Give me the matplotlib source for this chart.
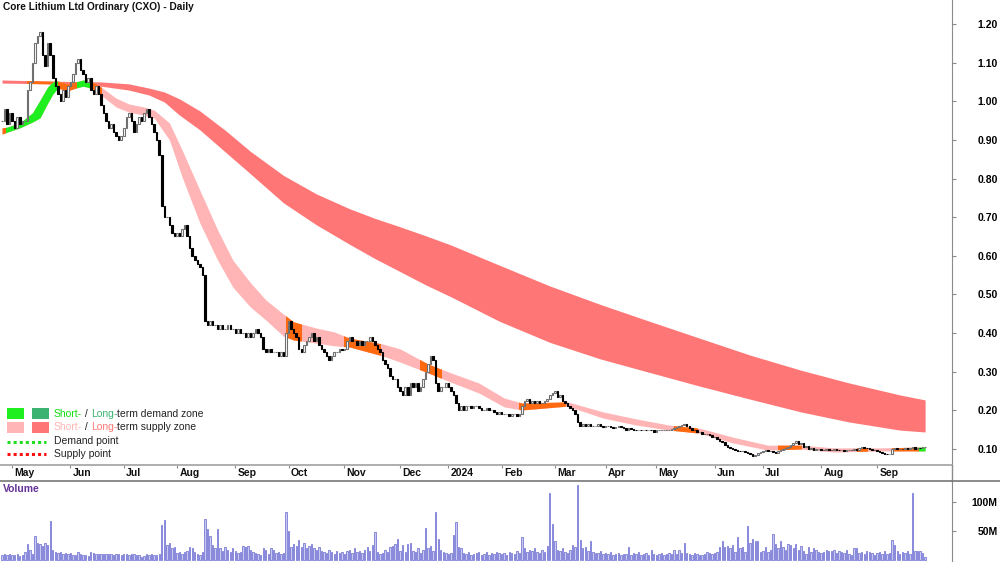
import matplotlib
matplotlib.use("Agg")
import matplotlib.pyplot as plt
from matplotlib.patches import Rectangle
from matplotlib.lines import Line2D
from matplotlib.transforms import blended_transform_factory
import numpy as np
import pandas as pd

plt.rcParams["font.family"] = ["Liberation Sans", "DejaVu Sans"]

title = "Core Lithium Ltd Ordinary (CXO) - Daily"
start_date = "2023-04-24"
asx_holidays = ["2023-04-25", "2023-06-12", "2023-12-25", "2023-12-26", "2024-01-01",
                "2024-01-26", "2024-03-29", "2024-04-01", "2024-04-25", "2024-06-10"]

# daily closes, one line per month (Apr-23 .. Sep-24)
close = [
    0.95, 0.98, 0.94, 0.97,
    0.95, 0.93, 0.96, 0.94, 0.95, 0.95, 1.03, 1.05, 1.10, 1.15, 1.17, 1.18, 1.12, 1.09, 1.15, 1.12, 1.06, 1.04, 1.02, 1.00, 1.03, 1.01, 1.04,
    1.05, 1.07, 1.10, 1.11, 1.08, 1.07, 1.05, 1.06, 1.03, 1.02, 1.04, 1.02, 0.99, 0.97, 0.95, 0.93, 0.94, 0.92, 0.91, 0.90, 0.91,
    0.93, 0.96, 0.97, 0.95, 0.92, 0.94, 0.96, 0.95, 0.97, 0.98, 0.96, 0.94, 0.92, 0.90, 0.86, 0.73, 0.70, 0.70, 0.68, 0.66, 0.65,
    0.66, 0.65, 0.67, 0.68, 0.65, 0.62, 0.60, 0.59, 0.58, 0.57, 0.55, 0.43, 0.42, 0.43, 0.42, 0.42, 0.41, 0.42, 0.41, 0.41, 0.42, 0.41, 0.41,
    0.40, 0.41, 0.40, 0.40, 0.39, 0.40, 0.39, 0.40, 0.41, 0.40, 0.39, 0.36, 0.35, 0.36, 0.35, 0.35, 0.35, 0.34, 0.35, 0.34, 0.40,
    0.43, 0.41, 0.40, 0.39, 0.36, 0.35, 0.37, 0.38, 0.39, 0.40, 0.38, 0.39, 0.37, 0.36, 0.35, 0.34, 0.33, 0.34, 0.35, 0.35, 0.36, 0.355,
    0.36, 0.38, 0.39, 0.38, 0.38, 0.37, 0.38, 0.37, 0.38, 0.38, 0.39, 0.38, 0.37, 0.36, 0.35, 0.33, 0.32, 0.31, 0.29, 0.28, 0.28, 0.26,
    0.25, 0.24, 0.26, 0.24, 0.27, 0.26, 0.27, 0.25, 0.26, 0.28, 0.30, 0.32, 0.34, 0.33, 0.27, 0.25, 0.26, 0.26, 0.27,
    0.26, 0.25, 0.24, 0.22, 0.20, 0.21, 0.20, 0.21, 0.21, 0.205, 0.21, 0.21, 0.205, 0.20, 0.20, 0.205, 0.20, 0.20, 0.195, 0.19, 0.195,
    0.19, 0.19, 0.19, 0.185, 0.19, 0.19, 0.185, 0.19, 0.21, 0.225, 0.23, 0.22, 0.225, 0.22, 0.225, 0.22, 0.22, 0.225, 0.23, 0.24, 0.245,
    0.25, 0.235, 0.24, 0.225, 0.22, 0.21, 0.205, 0.20, 0.19, 0.17, 0.16, 0.165, 0.16, 0.165, 0.16, 0.16, 0.16, 0.165, 0.16, 0.158,
    0.16, 0.16, 0.158, 0.155, 0.158, 0.16, 0.158, 0.155, 0.15, 0.155, 0.152, 0.15, 0.148, 0.15, 0.148, 0.15, 0.148, 0.15, 0.148, 0.145,
    0.148, 0.15, 0.148, 0.15, 0.148, 0.15, 0.152, 0.155, 0.158, 0.16, 0.162, 0.165, 0.16, 0.155, 0.15, 0.148, 0.145, 0.145, 0.14, 0.138, 0.14, 0.135, 0.132,
    0.13, 0.125, 0.12, 0.118, 0.11, 0.105, 0.102, 0.10, 0.098, 0.096, 0.095, 0.094, 0.092, 0.09, 0.088, 0.082, 0.085, 0.09, 0.092,
    0.095, 0.098, 0.096, 0.094, 0.092, 0.09, 0.094, 0.098, 0.10, 0.102, 0.105, 0.11, 0.115, 0.12, 0.112, 0.115, 0.105, 0.108, 0.10, 0.102, 0.098, 0.10, 0.10,
    0.098, 0.097, 0.10, 0.098, 0.097, 0.10, 0.098, 0.097, 0.098, 0.096, 0.097, 0.098, 0.097, 0.10, 0.098, 0.102, 0.105, 0.103, 0.102, 0.10, 0.098, 0.097,
    0.095, 0.092, 0.09, 0.088, 0.086, 0.088, 0.10, 0.102, 0.10, 0.101, 0.10, 0.102, 0.10, 0.102, 0.104, 0.10, 0.103, 0.102, 0.105, 0.105,
]

# daily volume in millions
volume_m = [
    9, 10, 9, 10,
    9, 8, 10, 7, 8, 14, 27, 18, 10, 41, 30, 27, 24, 29, 25, 68, 18, 14, 12, 13, 10, 12, 10,
    12, 8, 9, 13, 10, 9, 8, 7, 14, 12, 11, 10, 11, 10, 11, 10, 10, 9, 11, 10, 9,
    10, 11, 9, 11, 10, 9, 8, 6, 7, 11, 9, 10, 9, 8, 10, 60, 69, 25, 30, 20, 22,
    12, 14, 10, 13, 16, 22, 20, 14, 10, 8, 14, 71, 53, 41, 25, 20, 53, 20, 15, 22, 18, 14, 20,
    16, 12, 14, 24, 22, 24, 18, 14, 12, 10, 8, 20, 18, 10, 20, 18, 12, 14, 10, 12, 82,
    50, 22, 28, 24, 35, 22, 30, 20, 24, 28, 20, 18, 22, 16, 14, 12, 18, 14, 10, 16, 12, 14,
    10, 16, 18, 12, 20, 14, 16, 12, 18, 23, 16, 26, 49, 14, 10, 12, 18, 14, 22, 24, 28, 37,
    15, 26, 14, 28, 29, 16, 14, 20, 12, 18, 55, 20, 24, 16, 82, 36, 18, 14, 12,
    10, 12, 43, 65, 22, 20, 12, 10, 14, 8, 10, 12, 14, 8, 10, 14, 8, 12, 10, 14, 12,
    10, 12, 8, 14, 12, 10, 16, 12, 39, 20, 14, 18, 16, 20, 14, 12, 18, 14, 24, 115, 62,
    33, 18, 16, 20, 14, 12, 18, 26, 22, 129, 35, 20, 22, 16, 32, 14, 12, 12, 16, 10,
    12, 10, 14, 8, 10, 12, 9, 10, 10, 22, 8, 12, 10, 14, 8, 10, 12, 8, 17, 10,
    8, 10, 12, 9, 10, 12, 10, 18, 10, 18, 12, 29, 12, 10, 8, 12, 10, 9, 8, 10, 14, 12, 10,
    12, 14, 22, 32, 22, 24, 20, 26, 14, 40, 20, 22, 14, 59, 30, 36, 32, 33, 14,
    16, 22, 14, 18, 45, 28, 20, 32, 22, 18, 28, 26, 20, 28, 18, 24, 16, 10, 22, 14, 20, 18, 14,
    12, 14, 18, 16, 15, 18, 12, 16, 14, 12, 18, 10, 8, 20, 21, 12, 14, 10, 16, 14, 12, 8,
    12, 14, 10, 16, 10, 12, 35, 26, 16, 10, 14, 12, 16, 10, 115, 15, 16, 16, 12, 6,
]

# short-term band edges (sampled by trading-day index)
st_idx = [0, 2, 7, 12, 15, 18, 20, 22, 26, 29, 32, 35, 37, 39, 45, 50, 56, 60, 66, 71,
          78, 85, 91, 98, 104, 111, 115, 124, 131, 137, 150, 157, 168, 177, 188, 198, 205, 223, 237, 250,
          263, 275, 288, 302, 315, 328, 346, 364]
st_upper = [0.931, 0.933, 0.944, 0.970, 1.003, 1.037, 1.050, 1.052, 1.045, 1.050, 1.055, 1.052, 1.045, 1.037, 1.008, 0.993, 0.985, 0.977, 0.944, 0.874,
            0.770, 0.667, 0.589, 0.530, 0.486, 0.449, 0.429, 0.413, 0.403, 0.387, 0.372, 0.359, 0.320, 0.297, 0.271, 0.232, 0.219, 0.222, 0.196, 0.178,
            0.162, 0.154, 0.131, 0.110, 0.110, 0.103, 0.103, 0.105]
st_lower = [0.915, 0.920, 0.931, 0.946, 0.957, 0.995, 1.018, 1.034, 1.027, 1.034, 1.039, 1.034, 1.027, 1.016, 0.985, 0.972, 0.964, 0.957, 0.900, 0.804,
            0.685, 0.589, 0.519, 0.467, 0.434, 0.392, 0.382, 0.374, 0.367, 0.364, 0.341, 0.325, 0.297, 0.273, 0.245, 0.209, 0.201, 0.211, 0.180, 0.162,
            0.149, 0.141, 0.116, 0.097, 0.100, 0.092, 0.095, 0.095]

# long-term band edges
lt_idx = [0, 19, 39, 50, 58, 64, 70, 78, 88, 98, 111, 124, 137, 147, 157, 167, 177, 196, 216, 236, 256, 275, 295, 315, 334, 354, 364]
lt_upper = [1.055, 1.052, 1.050, 1.045, 1.034, 1.024, 1.006, 0.975, 0.925, 0.870, 0.808, 0.760, 0.722, 0.697, 0.675, 0.652, 0.628, 0.576, 0.522, 0.474,
            0.429, 0.387, 0.343, 0.304, 0.271, 0.240, 0.227]
lt_lower = [1.047, 1.045, 1.039, 1.029, 1.016, 0.998, 0.964, 0.926, 0.869, 0.812, 0.737, 0.680, 0.630, 0.593, 0.559, 0.525, 0.494, 0.431, 0.376, 0.333,
            0.297, 0.263, 0.229, 0.196, 0.170, 0.149, 0.144]

# stretches (trading-day index ranges) where the bands change colour
st_demand_spans = [(1, 22), (29, 35), (361, 364)]
st_cross_spans = [(0, 1), (22, 29), (35, 39), (112, 118), (135, 149), (165, 173), (204, 222),
                  (265, 274), (306, 315), (337, 341), (351, 361)]
lt_cross_spans = [(10, 22)]

price_ticks = [0.10, 0.20, 0.30, 0.40, 0.50, 0.60, 0.70, 0.80, 0.90, 1.00, 1.10, 1.20]
volume_ticks = [50, 100]

C_ST_DEMAND = "#1fee1f"
C_LT_DEMAND = "#3cb371"
C_ST_SUPPLY = "#ffb5b5"
C_LT_SUPPLY = "#ff7676"
C_CROSS = "#ff6a10"
AXIS = "#8a8a8a"

n = len(close)
dates = pd.bdate_range(start_date, periods=n, freq="C", holidays=asx_holidays)
x = np.arange(n)
c = np.array(close)
o = np.r_[c[0], c[:-1]]
up = c >= o

W, H = 1000, 562
fig = plt.figure(figsize=(W / 100, H / 100), dpi=100)
ax = fig.add_axes([0, 97 / H, 952 / W, 465 / H])
axv = fig.add_axes([0, 0, 952 / W, 81 / H])

xlim = (-0.8, 374.6)


def clipped_band(idx, lo, hi, color, spans, z):
    for a, b in spans:
        pc = ax.fill_between(idx, lo, hi, color=color, lw=0, zorder=z)
        rect = Rectangle((a, -10), b - a, 20, transform=ax.transData)
        pc.set_clip_path(rect)


# long-term band
ax.fill_between(lt_idx, lt_lower, lt_upper, color=C_LT_SUPPLY, lw=0, zorder=1)
clipped_band(lt_idx, lt_lower, lt_upper, C_CROSS, lt_cross_spans, 1.5)
# short-term band
ax.fill_between(st_idx, st_lower, st_upper, color=C_ST_SUPPLY, lw=0, zorder=2)
clipped_band(st_idx, st_lower, st_upper, C_ST_DEMAND, st_demand_spans, 2.5)
clipped_band(st_idx, st_lower, st_upper, C_CROSS, st_cross_spans, 2.6)

# candles
ax.bar(x[up], (c - o)[up], bottom=o[up], width=0.6, facecolor="white",
       edgecolor="#707070", linewidth=0.8, zorder=5)
ax.bar(x[~up], (c - o)[~up], bottom=o[~up], width=0.6, facecolor="black",
       edgecolor="black", linewidth=0.8, zorder=5)

ax.set_xlim(*xlim)
ax.set_ylim(0.0586, 1.262)
for s in ["left", "top"]:
    ax.spines[s].set_visible(False)
ax.spines["right"].set_color(AXIS)
ax.spines["bottom"].set_color("#a8a8a8")
ax.spines["bottom"].set_linewidth(1.3)

ax.yaxis.tick_right()
ax.set_yticks(price_ticks)
ax.set_yticklabels([f"{v:.2f}" for v in price_ticks])
ax.tick_params(axis="y", length=3, width=0.8, color=AXIS, pad=30, labelsize=7.5)
for lbl in ax.get_yticklabels():
    lbl.set_horizontalalignment("right")
    lbl.set_fontweight("bold")

# month ticks
month_pos = [i for i in range(n) if i == 0 or dates[i].month != dates[i - 1].month][1:]
month_lab = [dates[i].strftime("%b") if dates[i].month != 1 else str(dates[i].year) for i in month_pos]
ax.set_xticks(month_pos)
ax.tick_params(axis="x", length=2.5, width=0.8, color=AXIS, labelbottom=False)
tr = blended_transform_factory(ax.transData, ax.transAxes)
for p, lab in zip(month_pos, month_lab):
    ax.text(p + 0.9, -8 / 465, lab, transform=tr, ha="left", va="center",
            fontsize=7.5, fontweight="bold", color="#111111")

# volume panel
axv.bar(x, volume_m, width=0.55, facecolor="#c9c9f0", edgecolor="#7a7ad6", linewidth=0.6)
axv.set_xlim(*xlim)
axv.set_ylim(-3.4, 136)
for s in ["left", "bottom"]:
    axv.spines[s].set_visible(False)
axv.spines["right"].set_color(AXIS)
axv.spines["top"].set_color("#777777")
axv.spines["top"].set_linewidth(1.2)
axv.set_xticks([])
axv.yaxis.tick_right()
axv.set_yticks(volume_ticks)
axv.set_yticklabels([f"{v}M" for v in volume_ticks])
axv.tick_params(axis="y", length=3, width=0.8, color=AXIS, pad=30, labelsize=7.5)
for lbl in axv.get_yticklabels():
    lbl.set_horizontalalignment("right")
    lbl.set_fontweight("bold")

# frame pieces across the date strip and right margin
fig.add_artist(Line2D([952 / W, 952 / W], [1 - 481 / H, 1 - 465 / H], transform=fig.transFigure,
                      color=AXIS, lw=1))
fig.add_artist(Line2D([952 / W, 1], [1 - 481 / H, 1 - 481 / H], transform=fig.transFigure,
                      color="#777777", lw=1.2))


def fx(px):
    return px / W


def fy(py):
    return 1 - py / H


fig.text(fx(3), fy(7), title, fontsize=7.3, fontweight="bold", ha="left", va="center", color="#111111")
fig.text(fx(3), fy(489), "Volume", fontsize=7.5, fontweight="bold", ha="left", va="center", color="#663399")

# legend
for row, (c1, c2) in enumerate([(C_ST_DEMAND, C_LT_DEMAND), (C_ST_SUPPLY, C_LT_SUPPLY)]):
    top = 408 + row * 13.5
    fig.add_artist(Rectangle((fx(7), fy(top + 11)), 17 / W, 11 / H, transform=fig.transFigure,
                             facecolor=c1, edgecolor="none"))
    fig.add_artist(Rectangle((fx(32), fy(top + 11)), 17 / W, 11 / H, transform=fig.transFigure,
                             facecolor=c2, edgecolor="none"))


def chain(xp, yp, parts):
    t = fig.text(fx(xp), fy(yp), parts[0][0], color=parts[0][1], fontsize=7.5,
                 ha="left", va="baseline")
    for s, col in parts[1:]:
        t = ax.annotate(s, xy=(1, 0), xycoords=t, color=col, fontsize=7.5,
                        ha="left", va="bottom", annotation_clip=False)


chain(54, 417, [("Short-", "#11dd11"), (" / ", "#222222"), ("Long-", C_LT_DEMAND), ("term demand zone", "#222222")])
chain(54, 430.5, [("Short-", C_ST_SUPPLY), (" / ", "#222222"), ("Long-", C_LT_SUPPLY), ("term supply zone", "#222222")])
fig.add_artist(Line2D([fx(7), fx(46)], [fy(442), fy(442)], transform=fig.transFigure,
                      color="#22dd22", lw=2.2, ls=(0, (1, 1))))
fig.add_artist(Line2D([fx(7), fx(46)], [fy(454), fy(454)], transform=fig.transFigure,
                      color="#ff1010", lw=2.2, ls=(0, (1, 1))))
fig.text(fx(54), fy(441), "Demand point", fontsize=7.5, ha="left", va="center", color="#222222")
fig.text(fx(54), fy(454), "Supply point", fontsize=7.5, ha="left", va="center", color="#222222")

fig.savefig("out.png", dpi=100)
